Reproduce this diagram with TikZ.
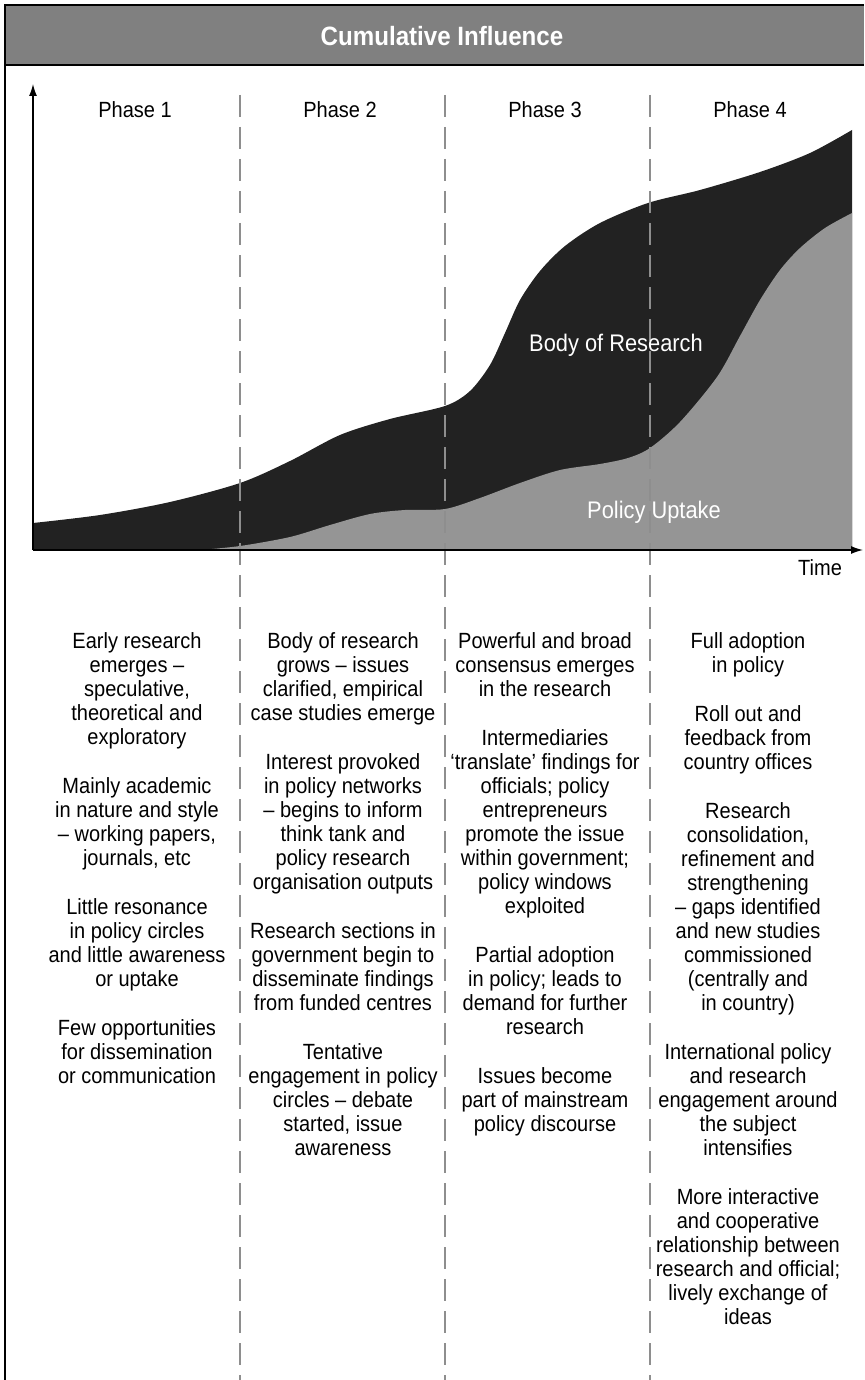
\documentclass[tikz,border=0pt]{standalone}
\usepackage{fontspec}
\setmainfont{Liberation Sans}[FakeStretch=0.91]
\usetikzlibrary{arrows.meta}

\definecolor{headgray}{HTML}{808080}
\definecolor{research}{HTML}{222222}
\definecolor{uptake}{HTML}{959595}
\definecolor{phaseline}{HTML}{8E8E8E}

\tikzset{
  frame/.style={line width=1.8pt},
  axis/.style={line width=1.3pt, -{Latex[length=12pt,width=8pt]}},
  divider/.style={phaseline, line width=1.1pt, dash pattern=on 22pt off 10pt},
  phase/.style={inner sep=0pt, font=\fontsize{22}{24}\selectfont},
  areatext/.style={inner sep=0pt, text=white, font=\fontsize{24}{26}\selectfont},
  coltext/.style={anchor=north, align=center, inner sep=0pt, font=\fontsize{22}{24}\selectfont},
}

\begin{document}
\begin{tikzpicture}[x=1pt, y=-1pt]

    \useasboundingbox (0,0) rectangle (864,1380);

    \fill [headgray] (5,5) rectangle (864,65);
    \draw [frame] (864,5) -- (5,5) -- (5,1380);
    \draw [frame] (5,65) -- (864,65);
    \node [inner sep=0pt, text=white, font=\fontsize{26.5}{28}\selectfont\bfseries] (title) at (442,36) {Cumulative Influence};

    \fill [research] plot [smooth] coordinates {(33,523) (100,515) (170,502) (240,483) (290,461)
        (340,435) (390,419) (445,406) (470,391) (490,365) (505,333) (520,300) (540,271)
        (565,246) (600,223) (648,203) (700,190) (760,172) (810,153) (852,130)}
        -- (852,550) -- (33,550) -- cycle;
    \fill [uptake] plot [smooth] coordinates {(200,550) (240,546) (290,537) (330,525) (370,514)
        (405,510) (445,509) (480,498) (520,483) (560,470) (600,464) (628,458) (650,448)
        (680,422) (717,377) (740,336) (760,300) (780,270) (800,248) (825,228) (852,213)}
        -- (852,550) -- cycle;

    \foreach \x in {240,445,650}
        \draw [divider] (\x,95) -- (\x,1380);

    \node [areatext] (research) at (616,345) {Body of Research};
    \node [areatext] (uptake) at (654,512) {Policy Uptake};

    \coordinate (origin) at (33,550);
    \coordinate (ytop) at (33,84);
    \coordinate (xend) at (863,550);
    \draw [axis] (origin) -- (ytop);
    \draw [axis] (origin) -- (xend);
    \node [phase] (time) at (820,568) {Time};

    \node [phase] (ph1) at (135,110) {Phase 1};
    \node [phase] (ph2) at (340,110) {Phase 2};
    \node [phase] (ph3) at (545,110) {Phase 3};
    \node [phase] (ph4) at (750,110) {Phase 4};

    \node [coltext] (col1) at (137,632) {Early research\\emerges --\\speculative,\\theoretical and\\exploratory\\[25pt]
        Mainly academic\\in nature and style\\-- working papers,\\journals, etc\\[25pt]
        Little resonance\\in policy circles\\and little awareness\\or uptake\\[25pt]
        Few opportunities\\for dissemination\\or communication};

    \node [coltext] (col2) at (343,632) {Body of research\\grows -- issues\\clarified, empirical\\case studies emerge\\[25pt]
        Interest provoked\\in policy networks\\-- begins to inform\\think tank and\\policy research\\organisation outputs\\[25pt]
        Research sections in\\government begin to\\disseminate findings\\from funded centres\\[25pt]
        Tentative\\engagement in policy\\circles -- debate\\started, issue\\awareness};

    \node [coltext] (col3) at (545,632) {Powerful and broad\\consensus emerges\\in the research\\[25pt]
        Intermediaries\\‘translate’ findings for\\officials; policy\\entrepreneurs\\promote the issue\\within government;\\policy windows\\exploited\\[25pt]
        Partial adoption\\in policy; leads to\\demand for further\\research\\[25pt]
        Issues become\\part of mainstream\\policy discourse};

    \node [coltext] (col4) at (748,632) {Full adoption\\in policy\\[25pt]
        Roll out and\\feedback from\\country offices\\[25pt]
        Research\\consolidation,\\refinement and\\strengthening\\-- gaps identified\\and new studies\\commissioned\\(centrally and\\in country)\\[25pt]
        International policy\\and research\\engagement around\\the subject\\intensifies\\[25pt]
        More interactive\\and cooperative\\relationship between\\research and official;\\lively exchange of\\ideas};

\end{tikzpicture}
\end{document}
